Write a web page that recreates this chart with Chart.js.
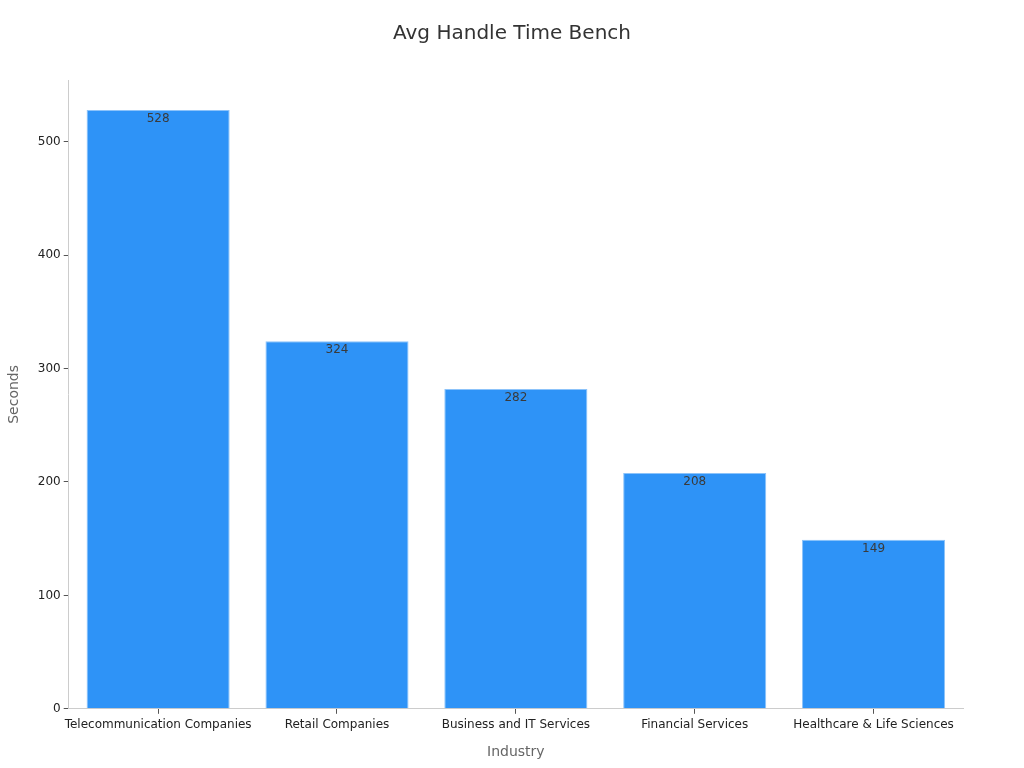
<!DOCTYPE html>
<html>
<head>
<meta charset="utf-8">
<script src="https://cdn.jsdelivr.net/npm/chart.js@4/dist/chart.umd.min.js"></script>
<style>
  html, body { margin: 0; padding: 0; background: #ffffff; }
  #wrap { width: 1024px; height: 768px; }
</style>
</head>
<body>
<div id="wrap"><canvas id="benchChart"></canvas></div>
<script>
const chartTitle = "Avg Handle Time Bench";
const industries = [
  "Telecommunication Companies",
  "Retail Companies",
  "Business and IT Services",
  "Financial Services",
  "Healthcare & Life Sciences",
];
const handleSeconds = [528, 324, 282, 208, 149];
const yTicks = [0, 100, 200, 300, 400, 500];

// value labels just under the top of each bar, plus a title centred on the page
const barLabels = {
  id: "barLabels",
  afterDatasetsDraw(chart) {
    const { ctx } = chart;
    const meta = chart.getDatasetMeta(0);
    ctx.save();
    ctx.font = "12px 'DejaVu Sans'";
    ctx.fillStyle = "#3a3a3a";
    ctx.textAlign = "center";
    ctx.textBaseline = "middle";
    meta.data.forEach((bar, i) => {
      ctx.fillText(String(handleSeconds[i]), bar.x, bar.y + 9);
    });
    ctx.fillStyle = "#333333";
    ctx.font = "20px 'DejaVu Sans'";
    ctx.fillText(chartTitle, chart.width / 2, 34);
    ctx.restore();
  },
};

new Chart(document.getElementById("benchChart"), {
  type: "bar",
  data: {
    labels: industries,
    datasets: [
      {
        label: "Seconds",
        data: handleSeconds,
        backgroundColor: "#2e93f7",
        borderColor: "#8cc3fa",
        borderWidth: 1,
        categoryPercentage: 1,
        barPercentage: 0.8,
      },
    ],
  },
  options: {
    responsive: true,
    maintainAspectRatio: false,
    animation: false,
    layout: {
      padding: { left: 2, right: 61, top: 80, bottom: 3 },
    },
    plugins: {
      legend: { display: false },
      tooltip: { enabled: false },
      title: { display: false },
    },
    scales: {
      x: {
        grid: {
          display: true,
          offset: false,
          drawOnChartArea: false,
          drawTicks: true,
          tickLength: 5,
          color: "#555555",
        },
        border: { display: true, color: "#cccccc" },
        ticks: {
          color: "#222222",
          font: { family: "'DejaVu Sans'", size: 12 },
          padding: 4,
          maxRotation: 0,
          minRotation: 0,
          autoSkip: false,
        },
        title: {
          display: true,
          text: "Industry",
          color: "#666666",
          font: { family: "'DejaVu Sans'", size: 14 },
          padding: { top: 8 },
        },
      },
      y: {
        min: 0,
        max: 554.4,
        afterBuildTicks(axis) {
          axis.ticks = yTicks.map((v) => ({ value: v }));
        },
        grid: {
          display: true,
          drawOnChartArea: false,
          drawTicks: true,
          tickLength: 5,
          color: "#555555",
        },
        border: { display: true, color: "#cccccc" },
        ticks: {
          color: "#222222",
          font: { family: "'DejaVu Sans'", size: 12 },
          padding: 3,
        },
        title: {
          display: true,
          text: "Seconds",
          color: "#666666",
          font: { family: "'DejaVu Sans'", size: 14 },
          padding: { bottom: 12 },
        },
      },
    },
  },
  plugins: [barLabels],
});
</script>
</body>
</html>
